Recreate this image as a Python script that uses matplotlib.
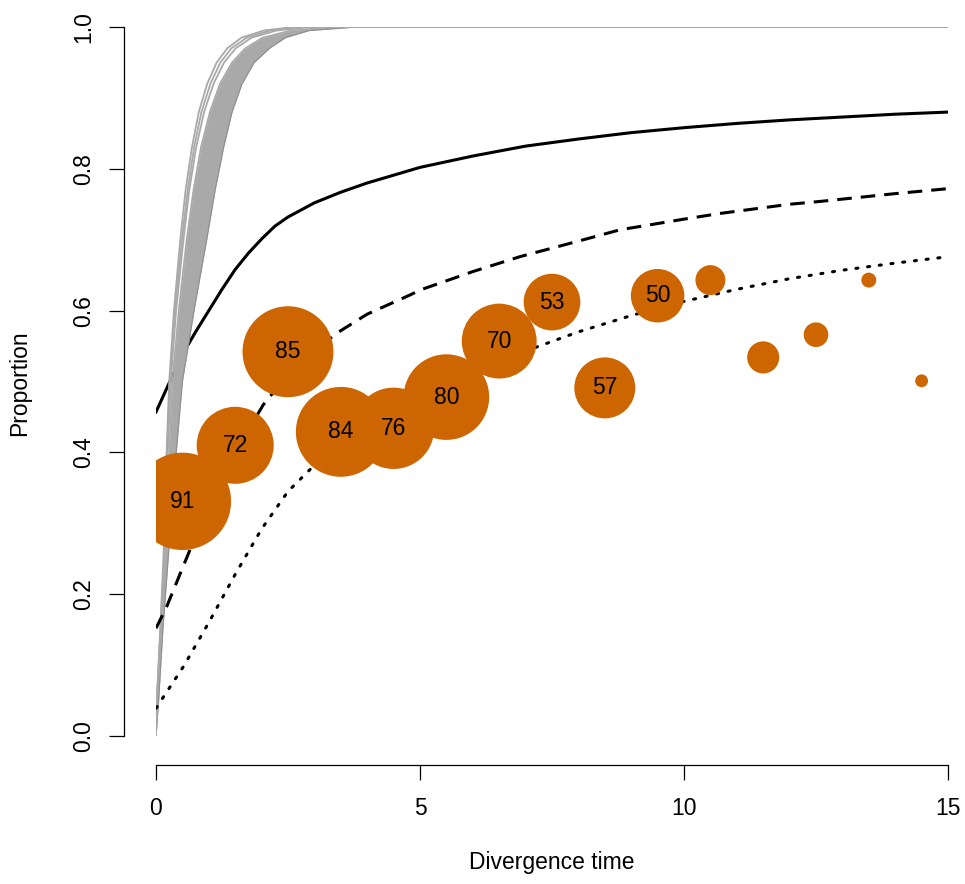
import matplotlib
matplotlib.use("Agg")
import matplotlib.pyplot as plt

plt.rcParams['font.family'] = ['Liberation Sans', 'DejaVu Sans']

# ---- data ----

# gray family of curves: x where each curve reaches the given proportion
gray_y = [0, 0.05, 0.15, 0.25, 0.38, 0.5, 0.6, 0.7, 0.77, 0.83, 0.88, 0.92,
          0.95, 0.97, 0.985, 0.995, 1.0, 1.0]
gray_lines_x = [
    [0, 0.015, 0.08, 0.14, 0.19, 0.25, 0.34, 0.46, 0.56, 0.68, 0.81, 0.97,
     1.15, 1.35, 1.62, 2.04, 2.60, 15],
    [0, 0.016, 0.085, 0.15, 0.20, 0.265, 0.36, 0.49, 0.60, 0.72, 0.86, 1.03,
     1.22, 1.43, 1.72, 2.16, 2.75, 15],
    [0, 0.017, 0.09, 0.155, 0.21, 0.28, 0.38, 0.52, 0.63, 0.76, 0.91, 1.09,
     1.29, 1.51, 1.81, 2.28, 2.90, 15],
]
band_left_x = [0, 0.02, 0.10, 0.16, 0.24, 0.31, 0.43, 0.58, 0.71, 0.85, 1.02,
               1.21, 1.44, 1.69, 2.02, 2.55, 3.30, 15]
band_right_x = [0, 0.05, 0.13, 0.23, 0.36, 0.50, 0.72, 0.96, 1.12, 1.28, 1.44,
                1.63, 1.86, 2.15, 2.45, 2.90, 3.80, 15]

# solid curve
solid_x = [0, 0.25, 0.5, 0.75, 1, 1.25, 1.5, 1.75, 2, 2.25, 2.5, 3, 3.5, 4, 5, 6,
           7, 8, 9, 10, 11, 12, 13, 14, 15]
solid_y = [0.457, 0.498, 0.538, 0.570, 0.600, 0.630, 0.658, 0.681, 0.701, 0.719,
           0.732, 0.752, 0.767, 0.780, 0.802, 0.818, 0.832, 0.842, 0.851, 0.858,
           0.864, 0.869, 0.873, 0.877, 0.880]

# dashed curve
dash_x = [0, 0.2, 0.64, 1, 1.5, 2.03, 2.5, 3, 3.42, 4, 4.81, 5, 6, 6.89, 8, 8.79,
          10, 10.68, 12, 12.58, 14, 15]
dash_y = [0.152, 0.182, 0.262, 0.325, 0.400, 0.467, 0.510, 0.543, 0.568, 0.595,
          0.622, 0.629, 0.655, 0.676, 0.698, 0.714, 0.729, 0.737, 0.750, 0.754,
          0.765, 0.772]

# dotted curve
dot_x = [0, 0.14, 0.52, 1, 1.5, 2, 2.5, 3, 3.5, 4, 5, 6, 7, 8, 9, 10, 11, 12, 13, 14, 15]
dot_y = [0.039, 0.055, 0.098, 0.160, 0.228, 0.292, 0.345, 0.382, 0.410, 0.435,
         0.478, 0.513, 0.543, 0.570, 0.593, 0.613, 0.630, 0.645, 0.657, 0.667, 0.676]

# observed proportions per time bin, with counts
bin_x = [0.5, 1.5, 2.5, 3.5, 4.5, 5.5, 6.5, 7.5, 8.5, 9.5, 10.5, 11.5, 12.5, 13.5, 14.5]
bin_y = [0.331, 0.410, 0.542, 0.429, 0.434, 0.478, 0.557, 0.612, 0.491, 0.621,
         0.643, 0.534, 0.566, 0.643, 0.501]
bin_n = [91, 72, 85, 84, 76, 80, 70, 53, 57, 50, 28, 30, 23, 14, 12]

# ---- figure ----
fig = plt.figure(figsize=(9.65, 8.84), dpi=100)
ax = fig.add_axes([156/965, 1-736/884, (948-156)/965, (736-27)/884])

gris = '#A9A9A9'
orange = '#CD6600'

ax.plot(solid_x, solid_y, color='black', lw=2.2, zorder=2)

ax.fill_betweenx(gray_y, band_left_x, band_right_x, color=gris, lw=0, zorder=3)
ax.plot(band_left_x, gray_y, color=gris, lw=1.2, zorder=3)
ax.plot(band_right_x, gray_y, color='#8f8f8f', lw=0.8, zorder=3)
for gx in gray_lines_x:
    ax.plot(gx, gray_y, color=gris, lw=1.3, zorder=3)

lw = 2.2
ax.plot(dash_x, dash_y, color='black', lw=lw, linestyle=(0, (10.5/lw, 6.5/lw)), zorder=4)
ax.plot(dot_x, dot_y, color='black', lw=lw, linestyle=(0, (1.5/lw, 7.0/lw)),
        dash_capstyle='round', zorder=4)

# circles: diameter proportional to count
sizes = [(0.7704*n)**2 for n in bin_n]
ax.scatter(bin_x, bin_y, s=sizes, color=orange, edgecolors='none', zorder=5)
for x, y, n in zip(bin_x, bin_y, bin_n):
    if n >= 50:
        ax.text(x, y, str(n), ha='center', va='center', fontsize=16.5, zorder=6)

ax.set_xlim(0, 15)
ax.set_ylim(0, 1)
ax.set_xticks([0, 5, 10, 15])
ax.set_xticklabels(['0', '5', '10', '15'])
ax.set_yticks([0, 0.2, 0.4, 0.6, 0.8, 1.0])
ax.set_yticklabels(['0.0', '0.2', '0.4', '0.6', '0.8', '1.0'])

for s in ['top', 'right']:
    ax.spines[s].set_visible(False)
# offsets are in points (32 px and 29 px)
ax.spines['left'].set_position(('outward', 23.0))
ax.spines['bottom'].set_position(('outward', 20.9))
ax.spines['left'].set_bounds(0, 1)
ax.spines['bottom'].set_bounds(0, 15)
for s in ['left', 'bottom']:
    ax.spines[s].set_linewidth(0.9)

ax.tick_params(axis='both', length=10.8, width=0.9, labelsize=16.5)
ax.tick_params(axis='y', labelrotation=90, pad=10)
ax.tick_params(axis='x', pad=12)
for lab in ax.get_yticklabels():
    lab.set_va('center')

fig.text(552/965, 1-862/884, 'Divergence time', ha='center', va='center', fontsize=16.5)
fig.text(20/965, 1-383/884, 'Proportion', ha='center', va='center', fontsize=16.5,
         rotation=90)

fig.savefig('out.png', dpi=100)
